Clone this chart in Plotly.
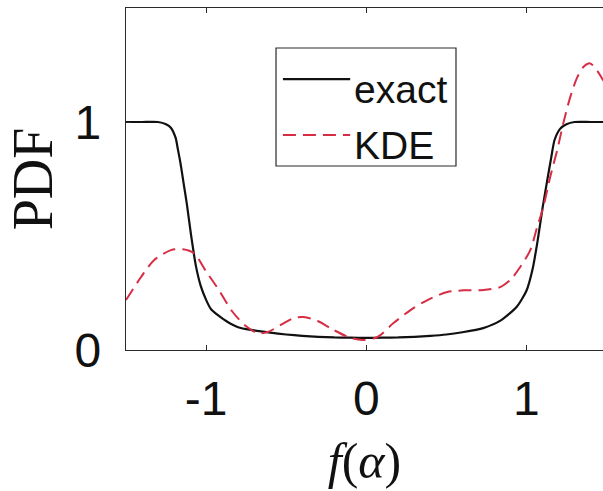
import plotly.graph_objects as go

# ---- data ----
exact_x = [-1.50, -1.40, -1.30, -1.25, -1.22, -1.19, -1.176, -1.16, -1.14, -1.12, -1.095,
           -1.064, -1.033, -1.00, -0.97, -0.93, -0.87, -0.80, -0.72, -0.60, -0.50, -0.40,
           -0.30, -0.20, -0.10, 0.00, 0.10, 0.20, 0.30, 0.40, 0.50, 0.60, 0.73, 0.84, 0.94,
           1.00, 1.04, 1.07, 1.10, 1.13, 1.155, 1.175, 1.21, 1.25, 1.30, 1.40, 1.50]
exact_y = [1.00, 1.00, 1.00, 0.99, 0.975, 0.93, 0.88, 0.82, 0.73, 0.64, 0.51,
           0.37, 0.28, 0.22, 0.18, 0.155, 0.125, 0.10, 0.088, 0.076, 0.068, 0.062,
           0.058, 0.055, 0.054, 0.053, 0.054, 0.055, 0.058, 0.062, 0.068, 0.078, 0.096, 0.13, 0.19,
           0.26, 0.36, 0.48, 0.62, 0.745, 0.845, 0.92, 0.97, 0.99, 1.00, 1.00, 1.00]

kde_x = [-1.500, -1.406, -1.325, -1.219, -1.145, -1.076, -1.001, -0.920, -0.839, -0.752,
         -0.677, -0.615, -0.534, -0.453, -0.391, -0.303, -0.204, -0.098, -0.017, 0.070,
         0.170, 0.276, 0.382, 0.506, 0.620, 0.731, 0.837, 0.899, 0.961, 1.024, 1.067, 1.105,
         1.148, 1.192, 1.230, 1.273, 1.317, 1.354, 1.398, 1.441, 1.472, 1.50]
kde_y = [0.219, 0.320, 0.394, 0.438, 0.442, 0.425, 0.346, 0.263, 0.171, 0.105,
         0.074, 0.079, 0.110, 0.140, 0.145, 0.127, 0.088, 0.053, 0.044, 0.057,
         0.118, 0.175, 0.219, 0.254, 0.262, 0.263, 0.276, 0.307, 0.364, 0.438, 0.539, 0.626,
         0.758, 0.876, 0.994, 1.108, 1.196, 1.240, 1.257, 1.226, 1.191, 1.16]

x_ticks = [-1, 0, 1]
x_tick_labels = ["-1", "0", "1"]
y_ticks = [0, 1]
y_tick_labels = ["0", "1"]
series_names = ["exact", "KDE"]

BLACK = "#111111"
RED = "rgb(214,45,68)"
AXIS = "#2a2a2a"

fig = go.Figure()
fig.add_trace(go.Scatter(x=exact_x, y=exact_y, mode="lines", name=series_names[0],
                         line=dict(color=BLACK, width=2.2, shape="spline", smoothing=0.6),
                         showlegend=False))
fig.add_trace(go.Scatter(x=kde_x, y=kde_y, mode="lines", name=series_names[1],
                         line=dict(color=RED, width=2.0, dash="13px,7px", shape="spline", smoothing=0.8),
                         showlegend=False))

# ---- hand-drawn legend box (MATLAB style) ----
lx0, lx1, ly0, ly1 = 0.3145, 0.6918, 0.538, 0.883
fig.add_shape(type="rect", xref="paper", yref="paper", x0=lx0, x1=lx1, y0=ly0, y1=ly1,
              line=dict(color=AXIS, width=1.2), fillcolor="white", layer="above")
legend_rows = [(0.792, BLACK, "solid", 2.2), (0.629, RED, "13px,7px", 2.0)]
for name, (yy, col, dash, w) in zip(series_names, legend_rows):
    fig.add_shape(type="line", xref="paper", yref="paper", x0=0.329, x1=0.470, y0=yy, y1=yy,
                  line=dict(color=col, width=w, dash=dash), layer="above")
    fig.add_annotation(xref="paper", yref="paper", x=0.474, y=yy - 0.03, text=name,
                       showarrow=False, xanchor="left", yanchor="middle",
                       font=dict(family="Liberation Sans, Arial", size=39, color=BLACK))

fig.update_layout(
    width=603, height=491,
    margin=dict(l=126, r=0, t=8, b=141),
    paper_bgcolor="white", plot_bgcolor="white",
    font=dict(family="Liberation Sans, Arial", color=BLACK),
    xaxis=dict(range=[-1.5, 1.478], tickvals=x_ticks, ticktext=x_tick_labels,
               ticks="inside", ticklen=5, tickcolor=AXIS, tickwidth=1.2,
               showline=True, linecolor=AXIS, linewidth=1.2, mirror="ticks",
               showgrid=False, zeroline=False,
               tickfont=dict(size=48, family="Liberation Sans, Arial", color=BLACK),
               ticklabelstandoff=6,
               title=dict(text="<i>f</i>(<i>α</i>)", standoff=19,
                          font=dict(size=50, family="Liberation Serif, Times New Roman", color=BLACK))),
    yaxis=dict(range=[0, 1.5], tickvals=y_ticks, ticktext=y_tick_labels,
               ticks="inside", ticklen=5, tickcolor=AXIS, tickwidth=1.2,
               showline=True, linecolor=AXIS, linewidth=1.2, mirror=False,
               showgrid=False, zeroline=False,
               tickfont=dict(size=48, family="Liberation Sans, Arial", color=BLACK),
               ticklabelstandoff=14,
               title=dict(text="PDF", standoff=3,
                          font=dict(size=56, family="Liberation Serif, Times New Roman", color=BLACK))),
)

fig.write_html("out.html", config={"displayModeBar": False})
